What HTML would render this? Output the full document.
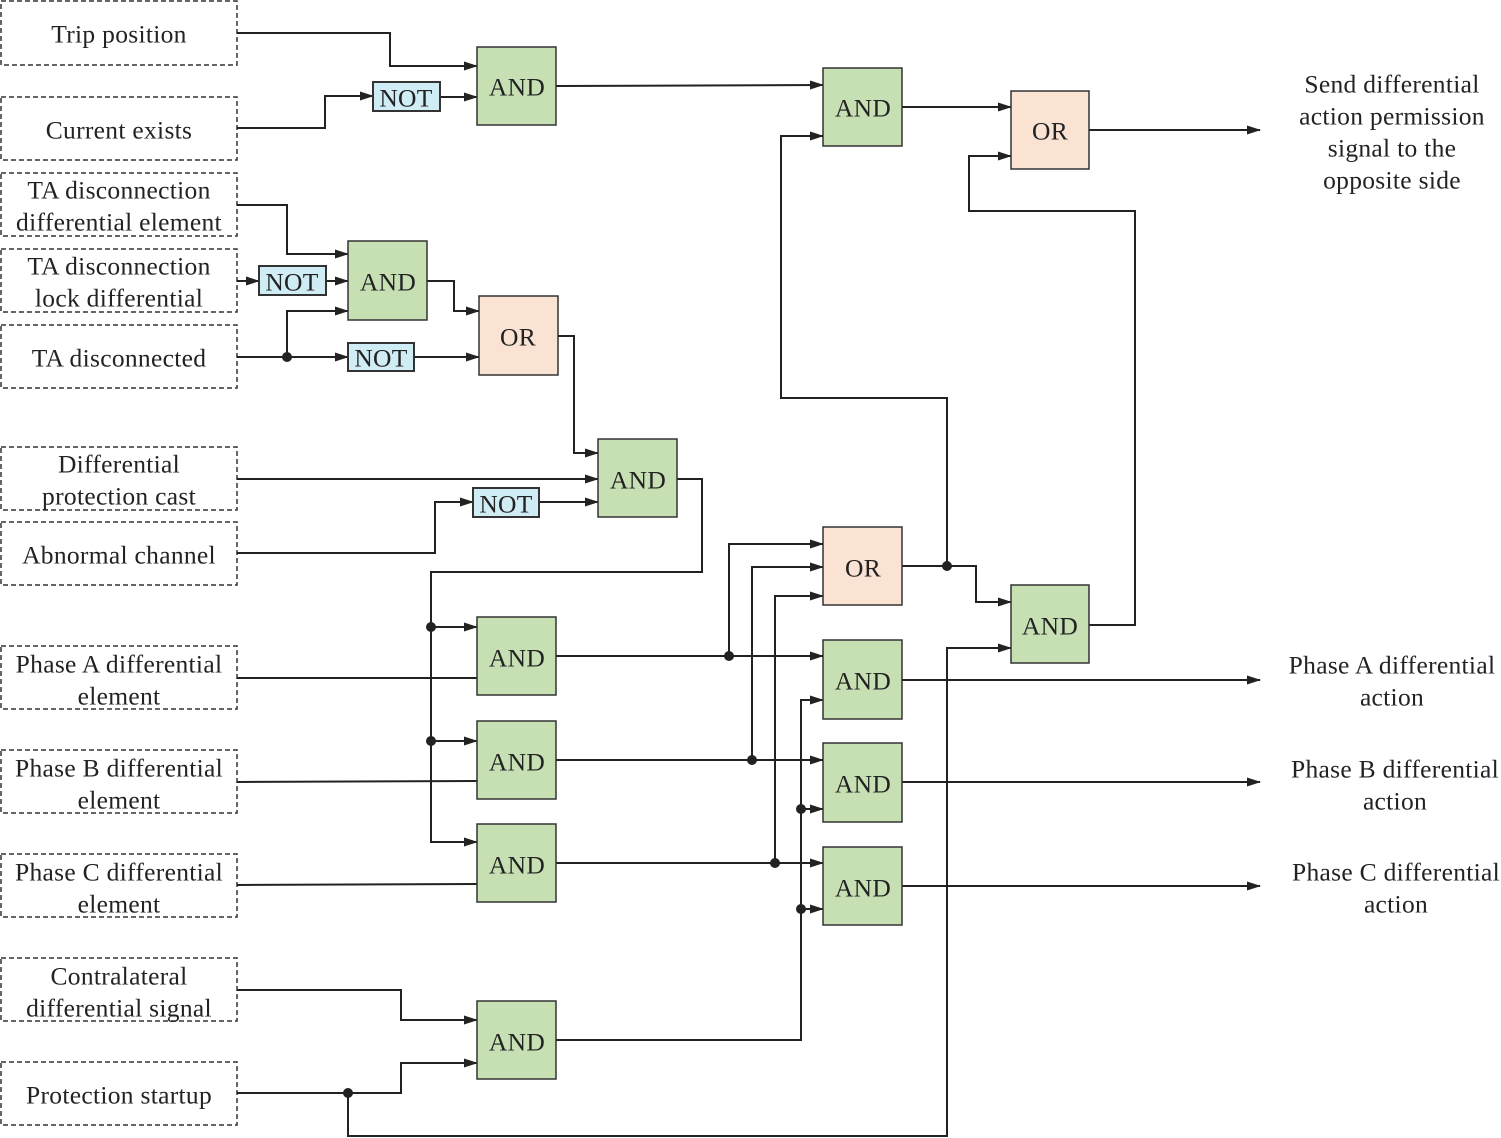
<!DOCTYPE html>
<html><head><meta charset="utf-8"><style>
html,body{margin:0;padding:0;background:#fff;}
svg{display:block;}
text{font-family:"Liberation Serif",serif;font-size:25.5px;letter-spacing:0.3px;fill:#222;text-anchor:middle;dominant-baseline:central;}
.w{fill:none;stroke:#222;stroke-width:2;}
.in{fill:#fff;stroke:#333;stroke-width:1.5;stroke-dasharray:5,3;}
.and{fill:#c6e0b4;stroke:#333;stroke-width:1.5;}
.or{fill:#fbe3d3;stroke:#333;stroke-width:1.5;}
.not{fill:#d0ecf5;stroke:#333;stroke-width:2;}
</style></head><body>
<svg width="1501" height="1138" viewBox="0 0 1501 1138">
<defs><marker id="a" markerWidth="14" markerHeight="9" refX="13" refY="4.5" orient="auto" markerUnits="userSpaceOnUse"><path d="M0,0 L14,4.5 L0,9 z" fill="#222"/></marker></defs>
<rect class="in" x="1" y="1" width="236" height="64"/><text x="119" y="34">Trip position</text>
<rect class="in" x="1" y="97" width="236" height="63"/><text x="119" y="130">Current exists</text>
<rect class="in" x="1" y="173" width="236" height="63"/><text x="119" y="190">TA disconnection</text><text x="119" y="222">differential element</text>
<rect class="in" x="1" y="249" width="236" height="63"/><text x="119" y="266">TA disconnection</text><text x="119" y="298">lock differential</text>
<rect class="in" x="1" y="325" width="236" height="63"/><text x="119" y="358">TA disconnected</text>
<rect class="in" x="1" y="447" width="236" height="63"/><text x="119" y="464">Differential</text><text x="119" y="496">protection cast</text>
<rect class="in" x="1" y="522" width="236" height="63"/><text x="119" y="555">Abnormal channel</text>
<rect class="in" x="1" y="646" width="236" height="63"/><text x="119" y="664">Phase A differential</text><text x="119" y="696">element</text>
<rect class="in" x="1" y="750" width="236" height="63"/><text x="119" y="768">Phase B differential</text><text x="119" y="800">element</text>
<rect class="in" x="1" y="854" width="236" height="63"/><text x="119" y="872">Phase C differential</text><text x="119" y="904">element</text>
<rect class="in" x="1" y="958" width="236" height="63"/><text x="119" y="976">Contralateral</text><text x="119" y="1008">differential signal</text>
<rect class="in" x="1" y="1062" width="236" height="63"/><text x="119" y="1095">Protection startup</text>
<g class="w">
<path d="M237,33 H390 V66 H477" marker-end="url(#a)"/>
<path d="M237,128 H325 V96 H373" marker-end="url(#a)"/>
<path d="M440,97 H477" marker-end="url(#a)"/>
<path d="M556,86 L823,85" marker-end="url(#a)"/>
<path d="M902,107 H1011" marker-end="url(#a)"/>
<path d="M1089,130 H1260" marker-end="url(#a)"/>
<path d="M1089,625 H1135 V211 H969 V156 H1011" marker-end="url(#a)"/>
<path d="M947,566 V398 H781 V136 H823" marker-end="url(#a)"/>
<path d="M902,566 H976 V602 H1011" marker-end="url(#a)"/>
<path d="M348,1093 V1136 H947 V648 H1011" marker-end="url(#a)"/>
<path d="M237,205 H287 V254 H348" marker-end="url(#a)"/>
<path d="M237,281 H259" marker-end="url(#a)"/>
<path d="M326,281 H348" marker-end="url(#a)"/>
<path d="M237,357 H348" marker-end="url(#a)"/>
<path d="M287,357 V311 H348" marker-end="url(#a)"/>
<path d="M414,357 H479" marker-end="url(#a)"/>
<path d="M427,281 H454 V311 H479" marker-end="url(#a)"/>
<path d="M558,336 H574 V453 H598" marker-end="url(#a)"/>
<path d="M237,479 H598" marker-end="url(#a)"/>
<path d="M237,553 H435 V502 H473" marker-end="url(#a)"/>
<path d="M539,502 H598" marker-end="url(#a)"/>
<path d="M677,479 H702 V572 H431 V842 H477" marker-end="url(#a)"/>
<path d="M431,627 H477" marker-end="url(#a)"/>
<path d="M431,741 H477" marker-end="url(#a)"/>
<path d="M237,678 H477"/>
<path d="M237,782 L477,781"/>
<path d="M237,885 L477,884"/>
<path d="M556,656 H823" marker-end="url(#a)"/>
<path d="M729,656 V544 H823" marker-end="url(#a)"/>
<path d="M556,760 H823" marker-end="url(#a)"/>
<path d="M752,760 V567 H823" marker-end="url(#a)"/>
<path d="M556,863 H823" marker-end="url(#a)"/>
<path d="M775,863 V596 H823" marker-end="url(#a)"/>
<path d="M556,1040 H801 V700 H823" marker-end="url(#a)"/>
<path d="M801,809 H823" marker-end="url(#a)"/>
<path d="M801,909 H823" marker-end="url(#a)"/>
<path d="M902,680 H1260" marker-end="url(#a)"/>
<path d="M902,782 H1260" marker-end="url(#a)"/>
<path d="M902,886 H1260" marker-end="url(#a)"/>
<path d="M237,990 H401 V1020 H477" marker-end="url(#a)"/>
<path d="M237,1093 H401 V1063 H477" marker-end="url(#a)"/>
</g>
<g fill="#222">
<circle cx="287" cy="357" r="5"/><circle cx="947" cy="566" r="5"/><circle cx="348" cy="1093" r="5"/>
<circle cx="431" cy="627" r="5"/><circle cx="431" cy="741" r="5"/>
<circle cx="729" cy="656" r="5"/><circle cx="752" cy="760" r="5"/><circle cx="775" cy="863" r="5"/>
<circle cx="801" cy="809" r="5"/><circle cx="801" cy="909" r="5"/>
</g>
<rect class="and" x="477" y="47" width="79" height="78"/><text x="517" y="87">AND</text>
<rect class="not" x="373" y="82" width="67" height="29"/><text x="406" y="98">NOT</text>
<rect class="and" x="823" y="68" width="79" height="78"/><text x="863" y="108">AND</text>
<rect class="or" x="1011" y="91" width="78" height="78"/><text x="1050" y="131">OR</text>
<rect class="and" x="348" y="241" width="79" height="79"/><text x="388" y="282">AND</text>
<rect class="not" x="259" y="266" width="67" height="29"/><text x="292" y="282">NOT</text>
<rect class="not" x="348" y="343" width="66" height="28"/><text x="381" y="358">NOT</text>
<rect class="or" x="479" y="296" width="79" height="79"/><text x="518" y="337">OR</text>
<rect class="and" x="598" y="439" width="79" height="78"/><text x="638" y="480">AND</text>
<rect class="not" x="473" y="488" width="66" height="29"/><text x="506" y="504">NOT</text>
<rect class="or" x="823" y="527" width="79" height="78"/><text x="863" y="568">OR</text>
<rect class="and" x="1011" y="585" width="78" height="78"/><text x="1050" y="626">AND</text>
<rect class="and" x="477" y="617" width="79" height="78"/><text x="517" y="658">AND</text>
<rect class="and" x="477" y="721" width="79" height="78"/><text x="517" y="762">AND</text>
<rect class="and" x="477" y="824" width="79" height="78"/><text x="517" y="865">AND</text>
<rect class="and" x="823" y="640" width="79" height="79"/><text x="863" y="681">AND</text>
<rect class="and" x="823" y="743" width="79" height="79"/><text x="863" y="784">AND</text>
<rect class="and" x="823" y="847" width="79" height="78"/><text x="863" y="888">AND</text>
<rect class="and" x="477" y="1001" width="79" height="78"/><text x="517" y="1042">AND</text>
<text x="1392" y="84">Send differential</text><text x="1392" y="116">action permission</text><text x="1392" y="148">signal to the</text><text x="1392" y="180">opposite side</text>
<text x="1392" y="665">Phase A differential</text><text x="1392" y="697">action</text>
<text x="1395" y="769">Phase B differential</text><text x="1395" y="801">action</text>
<text x="1396" y="872">Phase C differential</text><text x="1396" y="904">action</text>
</svg>
</body></html>
